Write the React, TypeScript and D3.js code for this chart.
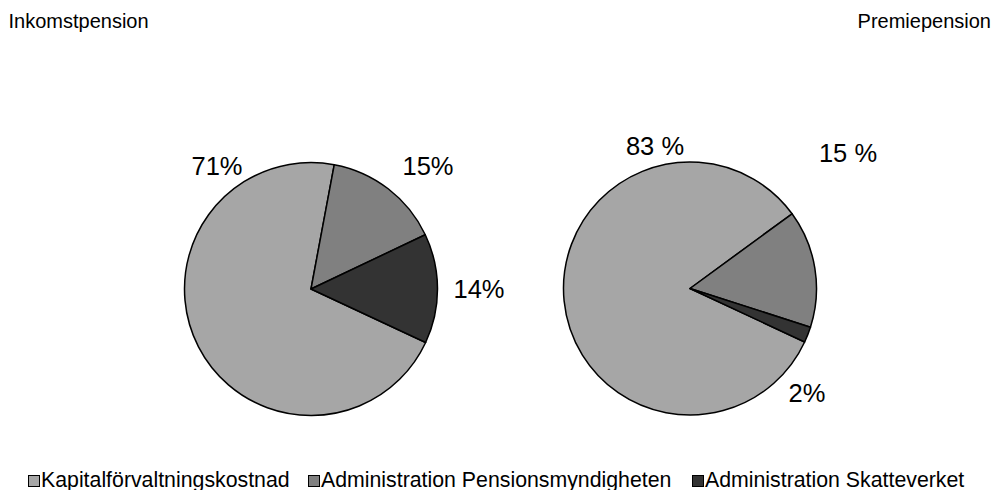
import React from "react";
import * as d3 from "d3";

// Cost split, in percent, for the two pension systems
const categories = [
  "Kapitalförvaltningskostnad",
  "Administration Pensionsmyndigheten",
  "Administration Skatteverket",
];
const inkomstValues = [71, 15, 14];
const premieValues = [83, 15, 2];
const inkomstLabels = ["71%", "15%", "14%"];
const premieLabels = ["83 %", "15 %", "2%"];
const panelTitles = ["Inkomstpension", "Premiepension"];

const colors = ["#a6a6a6", "#808080", "#333333"];
const FONT = "'Liberation Sans', Arial, Helvetica, sans-serif";

const W = 993;
const H = 490;
const R = 126.5;
const START = (115 * Math.PI) / 180;

// label anchor offsets (centre x, baseline y) relative to each pie's centre
const inkomstLabelOffsets = [
  [-94, -114],
  [117, -114],
  [168, 9],
];
const premieLabelOffsets = [
  [-35, -133.5],
  [158, -127],
  [117, 113],
];

const legendX = [28, 308, 692];

type PieProps = {
  cx: number;
  cy: number;
  values: number[];
  labels: string[];
  offsets: number[][];
};

function Pie({ cx, cy, values, labels, offsets }: PieProps) {
  const pie = d3
    .pie<number>()
    .sort(null)
    .startAngle(START)
    .endAngle(START + 2 * Math.PI)
    .value((d) => d);
  const arc = d3.arc<d3.PieArcDatum<number>>().innerRadius(0).outerRadius(R);
  const arcs = pie(values);
  return (
    <g transform={`translate(${cx},${cy})`}>
      {arcs.map((a, i) => (
        <path
          key={i}
          d={arc(a) || ""}
          fill={colors[i]}
          stroke="#000"
          strokeWidth={1.5}
          strokeLinejoin="round"
        />
      ))}
      {arcs.map((a, i) => (
        <text
          key={"l" + i}
          x={offsets[i][0]}
          y={offsets[i][1]}
          textAnchor="middle"
          fontSize={25.5}
          fontFamily={FONT}
          fill="#000"
        >
          {labels[i]}
        </text>
      ))}
    </g>
  );
}

export default function App() {
  return (
    <svg
      width={W}
      height={H}
      style={{ position: "absolute", left: 0, top: 0, background: "#fff" }}
    >
      <rect width={W} height={H} fill="#fff" />
      <text x={8.5} y={28} fontSize={20} fontFamily={FONT} fill="#000">
        {panelTitles[0]}
      </text>
      <text
        x={991}
        y={28}
        fontSize={20}
        fontFamily={FONT}
        fill="#000"
        textAnchor="end"
      >
        {panelTitles[1]}
      </text>

      <Pie
        cx={311}
        cy={289}
        values={inkomstValues}
        labels={inkomstLabels}
        offsets={inkomstLabelOffsets}
      />
      <Pie
        cx={690}
        cy={288.5}
        values={premieValues}
        labels={premieLabels}
        offsets={premieLabelOffsets}
      />

      {categories.map((c, i) => (
        <g key={c} transform={`translate(${legendX[i]},0)`}>
          <rect
            x={0.5}
            y={475.5}
            width={11}
            height={11}
            fill={colors[i]}
            stroke="#000"
            strokeWidth={1}
          />
          <text x={13} y={486.5} fontSize={21.3} fontFamily={FONT} fill="#000">
            {c}
          </text>
        </g>
      ))}
    </svg>
  );
}
